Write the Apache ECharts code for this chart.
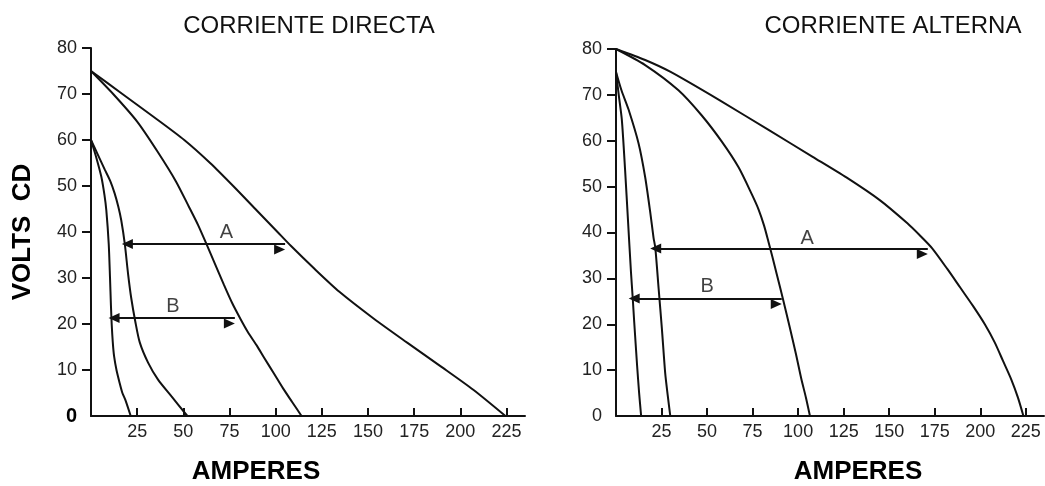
<!DOCTYPE html>
<html>
<head>
<meta charset="utf-8">
<script src="https://cdn.jsdelivr.net/npm/echarts@6/dist/echarts.min.js"></script>
<style>
html,body{margin:0;padding:0;background:#fff;}
#chart{width:1045px;height:486px;}
</style>
</head>
<body>
<div id="chart"></div>
<script>
// ---- data ----
const xTickValues = [25, 50, 75, 100, 125, 150, 175, 200, 225];
const yTickValues = [0, 10, 20, 30, 40, 50, 60, 70, 80];
const yTickMarks = [10, 20, 30, 40, 50, 60, 70, 80];

const titles = ['CORRIENTE DIRECTA', 'CORRIENTE ALTERNA'];
const xName = 'AMPERES';
const yName = 'VOLTS  CD';

// Corriente directa (amperes, volts)
const dcCurve1 = [[0,60],[3,56],[5.6,52],[7.3,48],[8.3,44.7],[9.6,37.4],[10.3,30],[10.8,24],[11.2,20],[11.8,16],[12.5,13],[13.8,10],[15.5,7.2],[17,5],[18.6,3.5],[21.5,0]];
const dcCurve2 = [[0,60],[3.5,57],[7.4,53.6],[10.5,51],[12.8,48.4],[14.8,45.5],[16.4,42.5],[18.3,37.4],[20.1,30.8],[21.8,25.6],[24,20.5],[26.4,16],[30.9,11.6],[36.3,7.9],[43.5,4.3],[52.2,0]];
const dcCurve3 = [[0,75],[12,70],[25,64],[36,57.5],[46,51],[53,45.5],[58,41.5],[62.5,37.4],[67,33.2],[72,28.5],[76.5,24.5],[80.8,21.2],[85,18.2],[89.8,15.3],[94,12.5],[98.8,9.4],[104,6],[109,3],[114,0]];
const dcCurve4 = [[0,75],[17,70],[34,65],[50.5,60],[64.5,55],[77,50],[89,45],[101,40],[108.2,37],[121,32],[134.5,27],[153,21.2],[171,16],[189,10.9],[207,5.7],[224.4,0]];

// Corriente alterna (amperes, volts)
const acCurve1 = [[0,75],[1.5,70],[3.2,64.6],[5,53.6],[6.6,42.5],[8.2,31.5],[9.2,25.6],[10,20.5],[11.6,10.9],[12.7,5],[13.8,0]];
const acCurve2 = [[0,75],[3,71],[6.9,66.8],[12.4,59.4],[16,52.1],[18.7,44.7],[20.6,38.9],[21.6,36.6],[23.4,27.8],[25.2,19],[27,9.4],[28.4,4.5],[29.8,0]];
const acCurve3 = [[0,80],[16,76.5],[34.3,71],[47.1,65.5],[58.1,59.8],[67.3,54.2],[74.6,48.3],[78.3,45],[81.3,41.5],[83.7,38],[86,34.5],[88.2,31],[91.8,25.3],[95.3,19.5],[98.8,13.5],[101.8,8],[104.3,4],[106.5,0]];
const acCurve4 = [[0,80],[16,77.6],[30,75],[57,68.8],[84,62.3],[108,56.5],[126.5,52],[145,47],[160,42],[166.5,39.5],[173.5,36.6],[182,32],[189,28],[196,24],[202.5,20],[208,16],[212.5,12],[217,8],[220.7,4],[223.7,0]];

// double-headed arrows: [fromX, toX, y]
const dcArrowA = [19.7, 105.1, 37.4];
const dcArrowB = [12.5, 77.9, 21.3];
const acArrowA = [21.8, 171.2, 36.5];
const acArrowB = [10.0, 91.0, 25.6];

// arrow letters: [x, y]
const dcLabelA = [73.3, 40.0];
const dcLabelB = [44.4, 23.8];
const acLabelA = [105, 38.7];
const acLabelB = [50, 28.2];

// ---- chart ----
const FONT = "'Liberation Sans', Arial, Helvetica, sans-serif";
const INK = '#111';

function xAxisFor(gi) {
  return {
    type: 'value', gridIndex: gi, min: 0, max: 235,
    axisLine: { show: true, onZero: false, lineStyle: { color: INK, width: 2 } },
    axisTick: { show: true, inside: true, length: 8, customValues: xTickValues, lineStyle: { color: INK, width: 2 } },
    axisLabel: { customValues: xTickValues, margin: 7, fontSize: 18, color: '#222', fontFamily: FONT },
    splitLine: { show: false }
  };
}
function yAxisFor(gi, boldZero) {
  return {
    type: 'value', gridIndex: gi, min: 0, max: 80, interval: 10,
    axisLine: { show: true, onZero: false, lineStyle: { color: INK, width: 2 } },
    axisTick: { show: true, inside: false, length: 9, customValues: yTickMarks, lineStyle: { color: INK, width: 2 } },
    axisLabel: { customValues: yTickValues, margin: 14, fontSize: 18, color: '#222', fontFamily: FONT,
      formatter: boldZero ? function (v) { return v === 0 ? '{z|0}' : String(v); } : '{value}',
      rich: { z: { fontSize: 20, fontWeight: 'bold', color: '#000', fontFamily: FONT } } },
    splitLine: { show: false }
  };
}

function curve(data, gi) {
  return {
    type: 'line', xAxisIndex: gi, yAxisIndex: gi, data: data,
    showSymbol: false, symbol: 'none', smooth: 0.25,
    lineStyle: { color: INK, width: 2 }, silent: true, animation: false, z: 3
  };
}
function arrows(gi, a, b) {
  return {
    type: 'line', xAxisIndex: gi, yAxisIndex: gi, data: [], silent: true, animation: false,
    markLine: {
      silent: true, animation: false,
      symbol: ['triangle', 'triangle'], symbolSize: [10, 11], symbolOffset: [0, 5.5],
      lineStyle: { color: INK, width: 2, type: 'solid' },
      label: { show: false },
      emphasis: { disabled: true },
      data: [
        [{ coord: [a[0], a[2]] }, { coord: [a[1], a[2]] }],
        [{ coord: [b[0], b[2]] }, { coord: [b[1], b[2]] }]
      ]
    }
  };
}
function letters(gi, la, lb) {
  return {
    type: 'scatter', xAxisIndex: gi, yAxisIndex: gi, silent: true, animation: false,
    symbol: 'circle', symbolSize: 1, itemStyle: { color: 'rgba(0,0,0,0)' },
    label: { show: true, position: 'inside', formatter: '{b}', fontSize: 20, color: '#111', fontFamily: FONT },
    data: [{ name: 'A', value: la }, { name: 'B', value: lb }]
  };
}

const chart = echarts.init(document.getElementById('chart'), null, { renderer: 'canvas' });
chart.setOption({
  animation: false,
  backgroundColor: '#fff',
  grid: [
    { left: 91, top: 48, width: 434, height: 368, containLabel: false, outerBoundsMode: 'none' },
    { left: 616, top: 49, width: 428, height: 367, containLabel: false, outerBoundsMode: 'none' }
  ],
  xAxis: [xAxisFor(0), xAxisFor(1)],
  yAxis: [
    Object.assign(yAxisFor(0, true), {
      name: yName, nameLocation: 'middle', nameRotate: 90, nameGap: 55,
      nameTextStyle: { fontSize: 26, fontWeight: 'bold', color: '#000', fontFamily: FONT }
    }),
    yAxisFor(1, false)
  ],
  graphic: [
    { type: 'text', x: 309, y: 26, style: { text: titles[0], textAlign: 'center', textVerticalAlign: 'middle', font: '24px ' + FONT, fill: '#111' } },
    { type: 'text', x: 893, y: 26, style: { text: titles[1], textAlign: 'center', textVerticalAlign: 'middle', font: '24px ' + FONT, fill: '#111' } },
    { type: 'text', x: 256, y: 472, style: { text: xName, textAlign: 'center', textVerticalAlign: 'middle', font: 'bold 26px ' + FONT, fill: '#000' } },
    { type: 'text', x: 858, y: 472, style: { text: xName, textAlign: 'center', textVerticalAlign: 'middle', font: 'bold 26px ' + FONT, fill: '#000' } }
  ],
  series: [
    curve(dcCurve1, 0), curve(dcCurve2, 0), curve(dcCurve3, 0), curve(dcCurve4, 0),
    curve(acCurve1, 1), curve(acCurve2, 1), curve(acCurve3, 1), curve(acCurve4, 1),
    arrows(0, dcArrowA, dcArrowB), arrows(1, acArrowA, acArrowB),
    letters(0, dcLabelA, dcLabelB), letters(1, acLabelA, acLabelB)
  ]
});
</script>
</body>
</html>
